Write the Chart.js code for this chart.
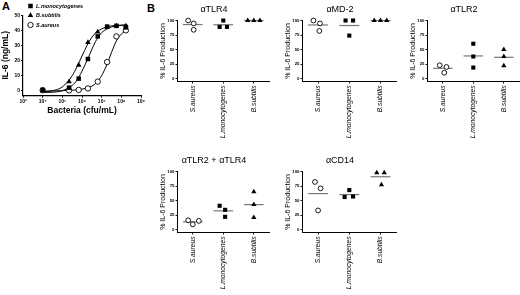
<!DOCTYPE html>
<html>
<head>
<meta charset="utf-8">
<script src="https://cdn.jsdelivr.net/npm/chart.js@4.4.0/dist/chart.umd.min.js"></script>
<style>
  html, body { margin: 0; padding: 0; background: #fff; }
  #fig { position: relative; width: 520px; height: 295px; overflow: hidden; font-family: Arial, "Liberation Sans", sans-serif; }
  #fig canvas { position: absolute; }
  .tag { position: absolute; font-weight: bold; font-size: 11px; line-height: 11px; }
</style>
</head>
<body>
<div id="fig">
  <div class="tag" style="left:2px;top:1px">A</div>
  <div class="tag" style="left:147px;top:3px">B</div>
  <canvas id="doseChart" width="146" height="118" style="left:0;top:0"></canvas>
  <canvas id="tlr4Chart" width="116" height="144" style="left:158px;top:0"></canvas>
  <canvas id="md2Chart" width="118" height="144" style="left:283px;top:0"></canvas>
  <canvas id="tlr2Chart" width="116" height="144" style="left:408px;top:0"></canvas>
  <canvas id="tlr2tlr4Chart" width="116" height="144" style="left:158px;top:151px"></canvas>
  <canvas id="cd14Chart" width="118" height="144" style="left:283px;top:151px"></canvas>
</div>
<script>
// --- Panel A: IL-6 vs bacteria dose ---
const doses = [1e4, 2.2e5, 6.8e5, 2e6, 6.3e6, 1.9e7, 5.6e7, 1.7e8];
const lmonoIL6 = [0.5, 2, 8, 21, 36, 42.5, 43, 42];
const bsubIL6 = [0, 6, 17, 32, 39, 42, 43, 43];
const saurIL6 = [0.3, 0.2, 0.5, 1.5, 6, 19, 36, 40];

// fitted curves
const fitDoses = [1e4, 3.2e4, 1e5, 3.2e5, 5.6e5, 1e6, 1.8e6, 3.2e6, 5.6e6, 1e7, 1.8e7, 3.2e7, 5.6e7, 1e8, 2e8];
const lmonoFit = [-1.2, -1, 0, 3.5, 7, 13, 20, 27.5, 34, 38.5, 40.8, 42.3, 43, 43.3, 43.5];
const bsubFit = [-0.8, 0, 2.5, 10, 16, 23, 30, 35.5, 39, 41, 42.3, 43, 43.3, 43.5, 43.6];
const saurFit = [-0.3, -0.2, 0, 0.3, 0.6, 1, 1.8, 3, 5.5, 10, 17, 25.5, 33, 37.5, 40.5];

const decadeTicks = [1e3, 1e4, 1e5, 1e6, 1e7, 1e8, 1e9];
const il6Ticks = [0, 10, 20, 30, 40, 50];

// --- Panel B: % IL-6 production with blocking antibodies ---
const bCategories = ['S.aureus', 'L.monocytogenes', 'B.subtilis'];
const pctTicks = [0, 25, 50, 75, 100];

const tlr4Saureus = [100, 95, 84], tlr4Lmono = [100, 89, 89], tlr4Bsub = [100, 100, 100];
const md2Saureus = [100, 95, 82], md2Lmono = [100, 100, 74], md2Bsub = [100, 100, 100];
const tlr2Saureus = [23, 20, 10], tlr2Lmono = [60, 38, 19], tlr2Bsub = [50, 38, 22];
const comboSaureus = [16, 9, 15], comboLmono = [41, 34, 22], comboBsub = [65, 43, 21];
const cd14Saureus = [82, 71, 33], cd14Lmono = [68, 56, 57], cd14Bsub = [98, 98, 77];

// horizontal scatter of the dots inside a column (category units)
const tlr4Spread = [[-0.15, 0.03, 0.03], [0, -0.12, 0.12], [-0.2, 0, 0.2]];
const md2Spread = [[-0.15, 0.06, 0.04], [-0.12, 0.12, 0], [-0.2, 0, 0.2]];
const tlr2Spread = [[-0.1, 0.12, 0.05], [0, 0, 0], [0, 0, 0]];
const comboSpread = [[-0.15, 0, 0.2], [-0.12, 0.06, 0.06], [0, 0, 0]];
const cd14Spread = [[-0.1, 0.08, 0], [0, -0.15, 0.12], [-0.12, 0.12, 0.03]];

Chart.defaults.font.family = 'Arial, "Liberation Sans", sans-serif';
Chart.defaults.color = '#000';
Chart.defaults.animation = false;

const superDigits = ['⁰', '¹', '²', '³', '⁴', '⁵', '⁶', '⁷', '⁸', '⁹'];

// marker looks: circle = S.aureus, square = L.monocytogenes, triangle = B.subtilis
function markerStyle(kind, big) {
  if (kind === 0) return { pointStyle: 'circle', pointRadius: big ? 2.7 : 2.4, backgroundColor: '#fff', borderColor: '#000', borderWidth: 0.9, clip: false };
  if (kind === 1) return { pointStyle: 'rect', pointRadius: big ? 3.2 : 2.9, backgroundColor: '#000', borderColor: '#000', borderWidth: 0, clip: false };
  return { pointStyle: 'triangle', pointRadius: big ? 3.2 : 3.0, backgroundColor: '#000', borderColor: '#000', borderWidth: 0, clip: false };
}

// small legend drawn in the top-left corner of panel A
const cornerLegend = {
  id: 'cornerLegend',
  afterDraw(chart, args, opts) {
    const ctx = chart.ctx;
    const pts = chart.data.datasets.filter(ds => ds.type === 'scatter');
    ctx.save();
    ctx.font = opts.font;
    ctx.textBaseline = 'middle';
    pts.forEach((ds, i) => {
      const y = opts.y + i * opts.step;
      ctx.fillStyle = ds.backgroundColor;
      ctx.strokeStyle = ds.borderColor;
      ctx.lineWidth = ds.borderWidth;
      Chart.helpers.drawPoint(ctx, { pointStyle: ds.pointStyle, radius: ds.pointRadius, borderWidth: ds.borderWidth, rotation: 0 }, opts.x, y);
      ctx.fillStyle = '#000';
      ctx.fillText(ds.label, opts.x + opts.gap, y);
    });
    ctx.restore();
  }
};

const pointsAt = (ys, label, kind) => Object.assign({
  type: 'scatter', label, data: doses.map((d, i) => ({ x: d, y: ys[i] }))
}, markerStyle(kind, true));
const fitCurve = (ys, label) => ({
  type: 'line', label, data: fitDoses.map((d, i) => ({ x: d, y: ys[i] })),
  borderColor: '#000', borderWidth: 1, pointRadius: 0, cubicInterpolationMode: 'monotone', fill: false
});

new Chart(document.getElementById('doseChart'), {
  type: 'scatter',
  data: {
    datasets: [
      pointsAt(lmonoIL6, 'L.monocytogenes', 1),
      pointsAt(bsubIL6, 'B.subtilis', 2),
      pointsAt(saurIL6, 'S.aureus', 0),
      fitCurve(lmonoFit, 'fit L'),
      fitCurve(bsubFit, 'fit B'),
      fitCurve(saurFit, 'fit S')
    ]
  },
  options: {
    responsive: false,
    layout: { padding: { top: 15.3, right: 5 } },
    plugins: {
      legend: { display: false },
      tooltip: { enabled: false },
      cornerLegend: { x: 30.5, y: 6, step: 9.5, gap: 5.5, font: 'italic bold 5.5px Arial, "Liberation Sans", sans-serif' }
    },
    scales: {
      x: {
        type: 'logarithmic', min: 1e3, max: 1e9,
        afterBuildTicks: s => { s.ticks = decadeTicks.map(v => ({ value: v })); },
        afterFit: s => { s.height = 22.8; },
        ticks: { callback: v => '10' + superDigits[Math.round(Math.log10(v))], font: { size: 5, weight: 'bold' }, padding: 1, autoSkip: false, maxRotation: 0 },
        grid: { drawOnChartArea: false, tickLength: 2.5, color: '#000', lineWidth: 1 },
        border: { color: '#000', width: 1.2 },
        title: { display: true, text: 'Bacteria (cfu/mL)', font: { size: 8.5, weight: 'bold' }, padding: { top: 0, bottom: 2 } }
      },
      y: {
        min: -3, max: 50,
        afterBuildTicks: s => { s.ticks = il6Ticks.map(v => ({ value: v })); },
        afterFit: s => { s.width = 23; },
        ticks: { font: { size: 5, weight: 'bold' }, padding: 1 },
        grid: { drawOnChartArea: false, tickLength: 2, color: '#000', lineWidth: 1 },
        border: { color: '#000', width: 1.2 },
        title: { display: true, text: 'IL-6 (ng/mL)', font: { size: 8.5, weight: 'bold' }, padding: { top: 0.5, bottom: 0 } }
      }
    }
  },
  plugins: [cornerLegend]
});

// --- Panel B charts ---
function columnPanel(id, title, groups, spread) {
  const datasets = [];
  groups.forEach((vals, i) => {
    datasets.push(Object.assign({
      type: 'scatter', label: bCategories[i],
      data: vals.map((v, k) => ({ x: i + spread[i][k], y: v }))
    }, markerStyle(i, false)));
  });
  groups.forEach((vals, i) => {
    const mean = vals.reduce((a, b) => a + b, 0) / vals.length;
    datasets.push({
      type: 'line', label: 'mean ' + bCategories[i],
      data: [{ x: i - 0.32, y: mean }, { x: i + 0.32, y: mean }],
      borderColor: '#777', borderWidth: 1.2, pointRadius: 0, clip: false
    });
  });
  return new Chart(document.getElementById(id), {
    type: 'scatter',
    data: { datasets },
    options: {
      responsive: false,
      layout: { padding: { right: 4 } },
      plugins: {
        legend: { display: false },
        tooltip: { enabled: false },
        title: { display: true, text: title, font: { size: 9, weight: 'normal' }, padding: { top: 4.5, bottom: 5.2 }, color: '#000' }
      },
      scales: {
        x: {
          type: 'linear', min: -0.5, max: 2.5,
          afterBuildTicks: s => { s.ticks = [0, 1, 2].map(v => ({ value: v })); },
          afterFit: s => { s.height = 62.5; },
          ticks: { callback: v => bCategories[v], minRotation: 90, maxRotation: 90, autoSkip: false, font: { size: 6.7, style: 'italic' }, padding: 2 },
          grid: { drawOnChartArea: false, tickLength: 2, color: '#000', lineWidth: 0.9 },
          border: { color: '#000', width: 1 }
        },
        y: {
          min: -5, max: 100,
          afterBuildTicks: s => { s.ticks = pctTicks.map(v => ({ value: v })); },
          afterFit: s => { s.width = 19.5; },
          ticks: { font: { size: 4.3, weight: 'bold' }, padding: 1 },
          grid: { drawOnChartArea: false, tickLength: 2, color: '#000', lineWidth: 0.9 },
          border: { color: '#000', width: 1 },
          title: { display: true, text: '% IL-6 Production', font: { size: 7 }, padding: { top: 0.6, bottom: 0 } }
        }
      }
    }
  });
}

columnPanel('tlr4Chart', 'αTLR4', [tlr4Saureus, tlr4Lmono, tlr4Bsub], tlr4Spread);
columnPanel('md2Chart', 'αMD-2', [md2Saureus, md2Lmono, md2Bsub], md2Spread);
columnPanel('tlr2Chart', 'αTLR2', [tlr2Saureus, tlr2Lmono, tlr2Bsub], tlr2Spread);
columnPanel('tlr2tlr4Chart', 'αTLR2 + αTLR4', [comboSaureus, comboLmono, comboBsub], comboSpread);
columnPanel('cd14Chart', 'αCD14', [cd14Saureus, cd14Lmono, cd14Bsub], cd14Spread);
</script>
</body>
</html>
